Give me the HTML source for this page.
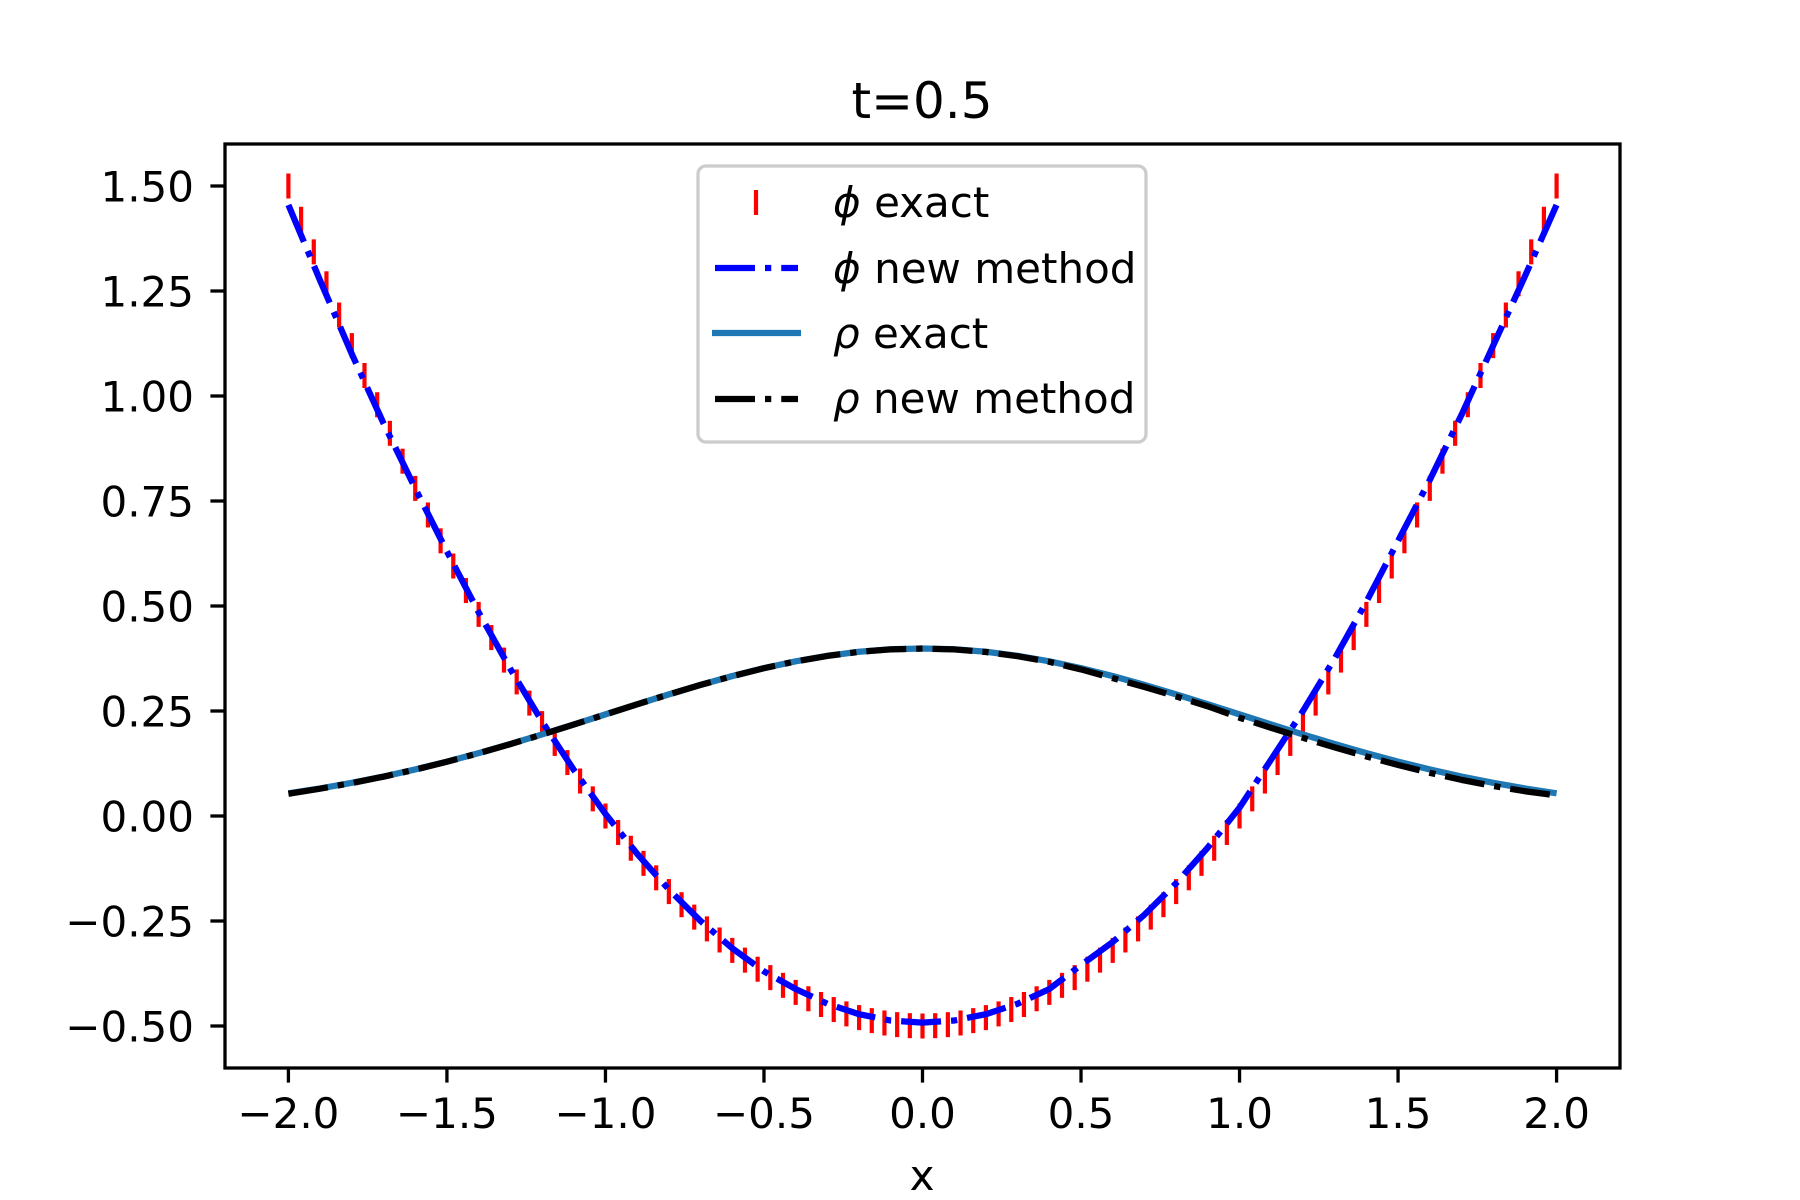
<!DOCTYPE html>
<html><head><meta charset="utf-8"><style>
html,body{margin:0;padding:0;background:#fff;}
svg{display:block;font-family:"DejaVu Sans","Liberation Sans",sans-serif;}
</style></head><body>
<svg id="chart" width="1800" height="1200" viewBox="0 0 1800 1200" xmlns="http://www.w3.org/2000/svg">
<defs><clipPath id="axclip"><rect x="225" y="144" width="1395" height="924"/></clipPath></defs>
<rect x="0" y="0" width="1800" height="1200" fill="#fff"/>
<text x="922" y="118" font-size="50" text-anchor="middle">t=0.5</text>
<g id="plot" clip-path="url(#axclip)"></g>
<g id="axes"></g>
<text x="922" y="1190" font-size="42" text-anchor="middle">x</text>
<g id="legend">
<rect x="698" y="166" width="448" height="276" rx="8" ry="8" fill="#fff" fill-opacity="0.8" stroke="#cccccc" stroke-width="3.3"/>
<line x1="756" y1="190" x2="756" y2="215" stroke="#ff0000" stroke-width="4.2"/>
<text x="833" y="217" font-size="42"><tspan font-style="italic">ϕ</tspan> exact</text>
<line x1="715" y1="268" x2="798" y2="268" stroke="#0000ff" stroke-width="6.25" stroke-dasharray="40 10 6.25 10"/>
<text x="833" y="283" font-size="42"><tspan font-style="italic">ϕ</tspan> new method</text>
<line x1="712" y1="333" x2="801" y2="333" stroke="#1f77b4" stroke-width="6.25"/>
<text x="833" y="348" font-size="42"><tspan font-style="italic">ρ</tspan> exact</text>
<line x1="715" y1="399" x2="798" y2="399" stroke="#000" stroke-width="6.25" stroke-dasharray="40 10 6.25 10"/>
<text x="833" y="413" font-size="42"><tspan font-style="italic">ρ</tspan> new method</text>
</g>
</svg>
<script>
const xGrid = [-2.0,-1.9,-1.8,-1.7,-1.6,-1.5,-1.4,-1.3,-1.2,-1.1,-1.0,-0.9,-0.8,-0.7,-0.6,-0.5,-0.4,-0.3,-0.2,-0.1,0.0,0.1,0.2,0.3,0.4,0.5,0.6,0.7,0.8,0.9,1.0,1.1,1.2,1.3,1.4,1.5,1.6,1.7,1.8,1.9,2.0];
const phiNew = [1.455,1.275,1.10,0.935,0.78,0.63,0.485,0.35,0.225,0.11,0.005,-0.09,-0.175,-0.25,-0.315,-0.37,-0.412,-0.447,-0.472,-0.487,-0.492,-0.487,-0.472,-0.447,-0.412,-0.355,-0.30,-0.235,-0.16,-0.075,0.02,0.135,0.25,0.375,0.51,0.655,0.80,0.955,1.12,1.285,1.455];
const rhoExact = [0.0540,0.0656,0.0790,0.0940,0.1109,0.1295,0.1497,0.1714,0.1942,0.2179,0.2420,0.2661,0.2897,0.3123,0.3332,0.3521,0.3683,0.3814,0.3910,0.3970,0.3989,0.3970,0.3910,0.3814,0.3683,0.3521,0.3332,0.3123,0.2897,0.2661,0.2420,0.2179,0.1942,0.1714,0.1497,0.1295,0.1109,0.0940,0.0790,0.0656,0.0540];
const rhoNew = [0.0530,0.0650,0.0785,0.0936,0.1105,0.1292,0.1494,0.1711,0.1940,0.2177,0.2418,0.2659,0.2895,0.3121,0.3330,0.3519,0.3681,0.3812,0.3908,0.3968,0.3987,0.3966,0.3905,0.3805,0.3670,0.3490,0.3282,0.3073,0.2847,0.2611,0.2340,0.2099,0.1862,0.1634,0.1417,0.1215,0.1029,0.0860,0.0715,0.0590,0.0490];
const markerX = [-2.00,-1.96,-1.92,-1.88,-1.84,-1.80,-1.76,-1.72,-1.68,-1.64,-1.60,-1.56,-1.52,-1.48,-1.44,-1.40,-1.36,-1.32,-1.28,-1.24,-1.20,-1.16,-1.12,-1.08,-1.04,-1.00,-0.96,-0.92,-0.88,-0.84,-0.80,-0.76,-0.72,-0.68,-0.64,-0.60,-0.56,-0.52,-0.48,-0.44,-0.40,-0.36,-0.32,-0.28,-0.24,-0.20,-0.16,-0.12,-0.08,-0.04,0.00,0.04,0.08,0.12,0.16,0.20,0.24,0.28,0.32,0.36,0.40,0.44,0.48,0.52,0.56,0.60,0.64,0.68,0.72,0.76,0.80,0.84,0.88,0.92,0.96,1.00,1.04,1.08,1.12,1.16,1.20,1.24,1.28,1.32,1.36,1.40,1.44,1.48,1.52,1.56,1.60,1.64,1.68,1.72,1.76,1.80,1.84,1.88,1.92,1.96,2.00];
const phiExact = [1.5,1.4208,1.3432,1.2672,1.1928,1.12,1.0488,0.9792,0.9112,0.8448,0.78,0.7168,0.6552,0.5952,0.5368,0.48,0.4248,0.3712,0.3192,0.2688,0.22,0.1728,0.1272,0.0832,0.0408,0,-0.0392,-0.0768,-0.1128,-0.1472,-0.18,-0.2112,-0.2408,-0.2688,-0.2952,-0.32,-0.3432,-0.3648,-0.3848,-0.4032,-0.42,-0.4352,-0.4488,-0.4608,-0.4712,-0.48,-0.4872,-0.4928,-0.4968,-0.4992,-0.5,-0.4992,-0.4968,-0.4928,-0.4872,-0.48,-0.4712,-0.4608,-0.4488,-0.4352,-0.42,-0.4032,-0.3848,-0.3648,-0.3432,-0.32,-0.2952,-0.2688,-0.2408,-0.2112,-0.18,-0.1472,-0.1128,-0.0768,-0.0392,0,0.0408,0.0832,0.1272,0.1728,0.22,0.2688,0.3192,0.3712,0.4248,0.48,0.5368,0.5952,0.6552,0.7168,0.78,0.8448,0.9112,0.9792,1.0488,1.12,1.1928,1.2672,1.3432,1.4208,1.5];
const xTicks = [-2.0,-1.5,-1.0,-0.5,0.0,0.5,1.0,1.5,2.0];
const xTickLabels = ["−2.0","−1.5","−1.0","−0.5","0.0","0.5","1.0","1.5","2.0"];
const yTicks = [-0.5,-0.25,0,0.25,0.5,0.75,1.0,1.25,1.5];
const yTickLabels = ["−0.50","−0.25","0.00","0.25","0.50","0.75","1.00","1.25","1.50"];

const NS = "http://www.w3.org/2000/svg";
const L = 225, R = 1620, T = 144, B = 1068;
const XMIN = -2.2, XMAX = 2.2, YMIN = -0.6, YMAX = 1.6;
function sx(v){ return L + (v - XMIN) / (XMAX - XMIN) * (R - L); }
function sy(v){ return B - (v - YMIN) / (YMAX - YMIN) * (B - T); }
function mk(tag, attrs, parent){ const e = document.createElementNS(NS, tag); for (const k in attrs) e.setAttribute(k, attrs[k]); parent.appendChild(e); return e; }
const plot = document.getElementById('plot');
const axes = document.getElementById('axes');
function pts(xs, ys){ return xs.map((x,i)=> sx(x).toFixed(2)+','+sy(ys[i]).toFixed(2)).join(' '); }

// phi exact markers
markerX.forEach((x,i)=>{
  const y = sy(phiExact[i]);
  const m = mk('line', {x1:sx(x), x2:sx(x), y1:y-12.5, y2:y+12.5, stroke:'#ff0000', 'stroke-width':4.2}, plot);
  
  
});
const l1 = mk('polyline', {points:pts(xGrid, phiNew), fill:'none', stroke:'#0000ff', 'stroke-width':6.25, 'stroke-dasharray':'40 10 6.25 10', 'stroke-linejoin':'round'}, plot);


const l2 = mk('polyline', {points:pts(xGrid, rhoExact), fill:'none', stroke:'#1f77b4', 'stroke-width':6.25, 'stroke-linejoin':'round'}, plot);


const l3 = mk('polyline', {points:pts(xGrid, rhoNew), fill:'none', stroke:'#000000', 'stroke-width':6.25, 'stroke-dasharray':'40 10 6.25 10', 'stroke-linejoin':'round'}, plot);



// spines
const sp = mk('rect', {x:L, y:T, width:R-L, height:B-T, fill:'none', stroke:'#000', 'stroke-width':3.3}, axes);


xTicks.forEach((v,i)=>{
  const x = sx(v);
  const t = mk('line', {x1:x, x2:x, y1:B, y2:B+14.6, stroke:'#000', 'stroke-width':3.3}, axes);
  
  
  const lb = mk('text', {x:x, y:B+60, 'font-size':42, 'text-anchor':'middle'}, axes);
  lb.textContent = xTickLabels[i];
  
  
});
yTicks.forEach((v,i)=>{
  const y = sy(v);
  const t = mk('line', {x1:L-14.6, x2:L, y1:y, y2:y, stroke:'#000', 'stroke-width':3.3}, axes);
  
  
  const lb = mk('text', {x:L-31, y:y+15.5, 'font-size':42, 'text-anchor':'end'}, axes);
  lb.textContent = yTickLabels[i];
  
  
});
</script>
</body></html>
